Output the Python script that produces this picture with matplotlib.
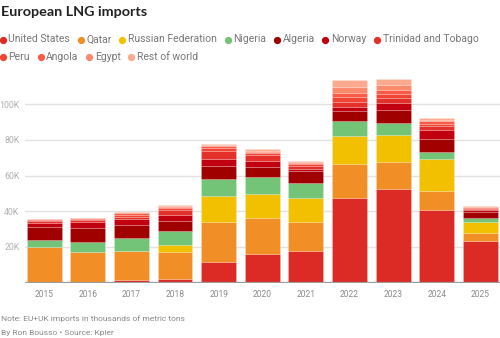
import matplotlib
matplotlib.use("Agg")
import matplotlib.pyplot as plt
from matplotlib import font_manager

years = ["2015", "2016", "2017", "2018", "2019", "2020", "2021", "2022", "2023", "2024", "2025"]

united_states = [0.3, 0.3, 1.3, 2.2, 11.8, 16.2, 17.9, 47.6, 52.3, 40.9, 23.5]
qatar         = [19.5, 17.1, 16.6, 14.8, 22.0, 20.0, 16.3, 19.1, 15.3, 10.6, 4.3]
russia        = [0.0, 0.0, 0.0, 4.1, 14.8, 13.7, 13.3, 15.7, 15.0, 17.6, 6.0]
nigeria       = [4.3, 5.6, 7.3, 7.7, 9.3, 9.1, 8.2, 8.2, 6.7, 4.3, 2.6]
algeria       = [7.1, 7.8, 7.0, 5.9, 7.3, 6.0, 6.9, 5.6, 7.5, 7.3, 3.0]
norway        = [2.2, 3.2, 3.3, 3.4, 4.3, 3.2, 1.2, 2.4, 4.0, 4.8, 1.3]
trinidad      = [1.3, 1.2, 1.5, 2.5, 4.3, 3.2, 1.5, 2.8, 2.8, 2.0, 0.6]
peru          = [0.5, 0.6, 1.2, 1.2, 1.5, 1.0, 1.0, 2.5, 2.0, 1.6, 0.5]
angola        = [0.3, 0.3, 1.0, 0.8, 1.0, 0.8, 0.8, 2.5, 2.5, 1.2, 0.4]
egypt         = [0.2, 0.1, 0.3, 0.6, 0.8, 0.4, 0.5, 3.0, 2.4, 0.8, 0.2]
rest_of_world = [0.2, 0.1, 0.3, 0.5, 0.6, 1.1, 0.8, 4.0, 3.5, 1.0, 0.4]

series_names = ["United States", "Qatar", "Russian Federation", "Nigeria", "Algeria",
                "Norway", "Trinidad and Tobago", "Peru", "Angola", "Egypt", "Rest of world"]
series_values = [united_states, qatar, russia, nigeria, algeria, norway, trinidad,
                 peru, angola, egypt, rest_of_world]
colors = ["#dc2b25", "#f28e26", "#f3c000", "#73c476", "#a10000", "#c0000f",
          "#e3302b", "#f04535", "#fa5b47", "#fb8a6c", "#fca98e"]


def pick_font(cands):
    for c in cands:
        try:
            font_manager.findfont(font_manager.FontProperties(family=c),
                                  fallback_to_default=False)
            return c
        except Exception:
            pass
    return "DejaVu Sans"


body_font = pick_font(["Liberation Sans Narrow", "Roboto", "Lato"])
title_font = pick_font(["Lato", "Roboto"])
plt.rcParams['font.family'] = [body_font, 'DejaVu Sans']

W, H = 500, 338
fig = plt.figure(figsize=(W / 100, H / 100), dpi=100)
fig.canvas.draw()
renderer = fig.canvas.get_renderer()


def fit(t, target):
    w = t.get_window_extent(renderer=renderer).width
    t.set_fontsize(t.get_fontsize() * target / w)
    return t.get_fontsize()


ax = fig.add_axes([25 / W, 55.3 / H, 475 / W, 0.6127])
x = list(range(len(years)))
bottom = [0.0] * len(years)
for name, vals, c in zip(series_names, series_values, colors):
    ax.bar(x, vals, bottom=bottom, width=0.8, color=c, edgecolor=(1, 1, 1, 0.3),
           linewidth=0.4, zorder=2)
    bottom = [b + v for b, v in zip(bottom, vals)]

ax.set_xlim(-0.44, 10.45)
ax.set_ylim(0, 116)
ax.set_yticks([20, 40, 60, 80, 100])
ax.set_yticklabels(["20K", "40K", "60K", "80K", "100K"])
ax.yaxis.grid(True, color="#e2e2e2", linewidth=1.0, zorder=0)
ax.set_axisbelow(True)
ax.axhline(0, color="#9b9b9b", linewidth=1.6, zorder=3)
ax.set_xticks(x)
ax.set_xticklabels(years)
for s in ax.spines.values():
    s.set_visible(False)

probe = fig.text(0, 0, "100K", fontsize=10)
ysize = fit(probe, 20)
probe.set_text("2015")
probe.set_fontsize(10)
xsize = fit(probe, 19)
probe.remove()
ax.tick_params(axis="y", length=0, pad=4, labelsize=ysize, labelcolor="#b0b0b0")
ax.tick_params(axis="x", length=0, pad=5.5, labelsize=xsize, labelcolor="#8a8a8a")

title = fig.text(1 / W, 1 - 12 / H, "European LNG imports", fontsize=11, fontweight="bold",
                 family=[title_font, 'DejaVu Sans'],
                 color="#222222", va="center", ha="left")
fit(title, 146)

probe = fig.text(0, 0, "United States", fontsize=10)
lsize = fit(probe, 61.5)
probe.remove()
rows = [series_names[:7], series_names[7:]]
row_y = [39.5, 56.5]
idx = 0
for r, names in enumerate(rows):
    xpos = 2.7
    for name in names:
        c = colors[idx]
        idx += 1
        fig.lines.append(matplotlib.lines.Line2D([xpos / W], [1 - row_y[r] / H],
                                                 marker="o", markersize=4.2,
                                                 color=c, linestyle="none",
                                                 transform=fig.transFigure))
        t = fig.text((xpos + 5.8) / W, 1 - row_y[r] / H, name, fontsize=lsize,
                     color="#777777", va="center", ha="left")
        bb = t.get_window_extent(renderer=renderer)
        xpos = bb.x1 + 10.5

n1 = fig.text(1 / W, 1 - 318.5 / H, "Note: EU+UK imports in thousands of metric tons",
              fontsize=7, color="#888888", va="center", ha="left")
nsize = fit(n1, 183)
fig.text(1 / W, 1 - 333 / H, "By Ron Bousso \u2022 Source: Kpler",
         fontsize=nsize, color="#888888", va="center", ha="left")

fig.savefig("out.png", dpi=100)
